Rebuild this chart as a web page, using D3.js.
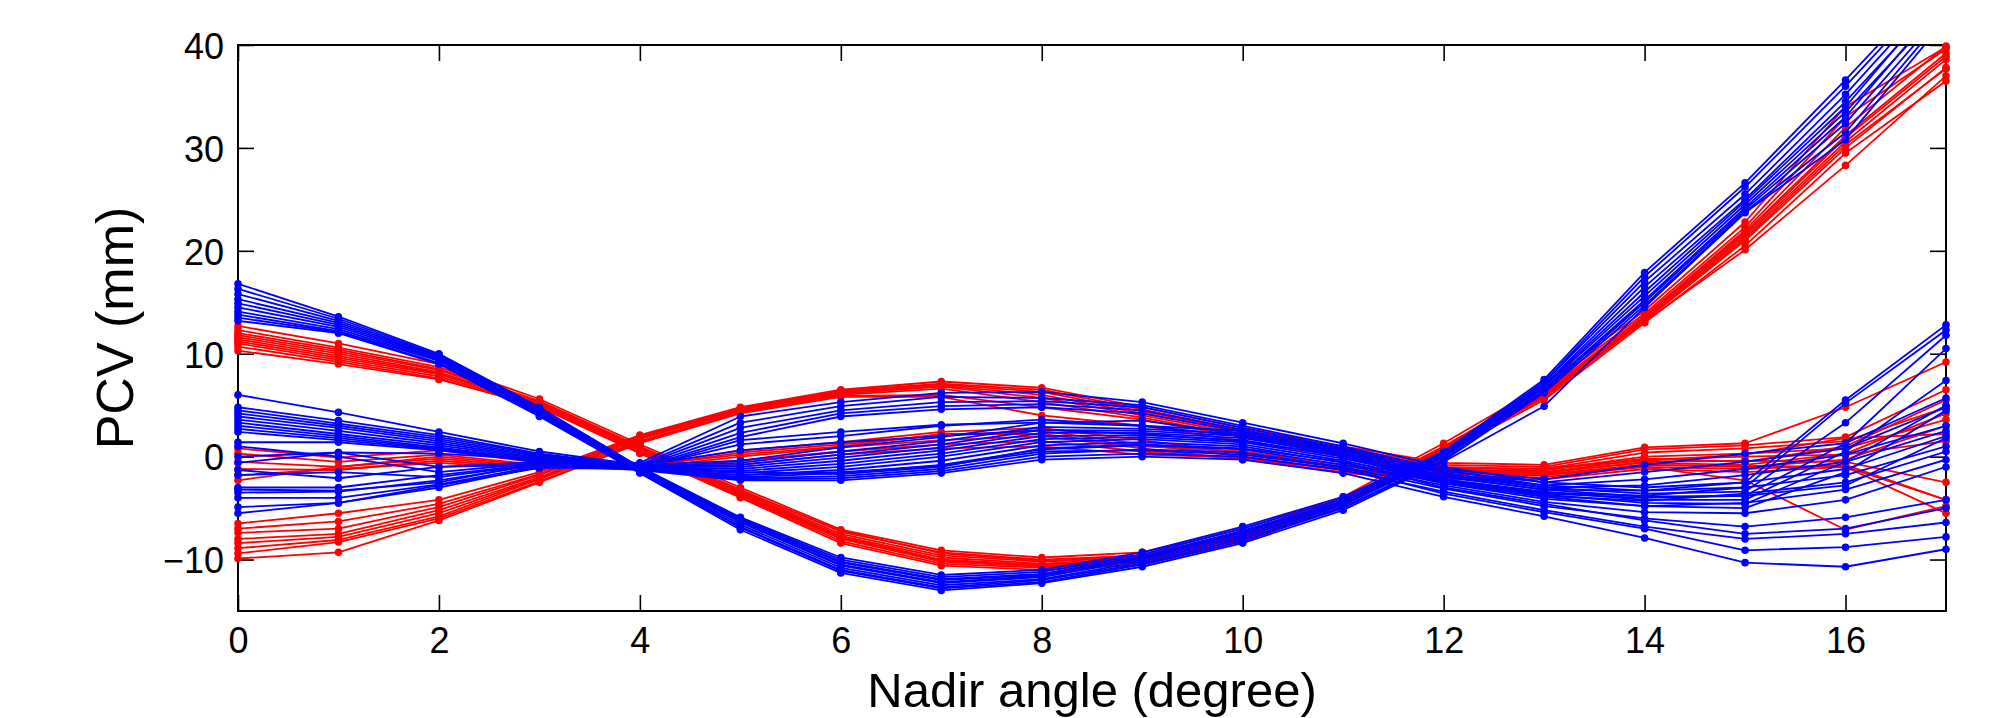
<!DOCTYPE html>
<html>
<head>
<meta charset="utf-8">
<script src="https://cdn.jsdelivr.net/npm/d3@7"></script>
<style>
  html, body { margin: 0; padding: 0; background: #ffffff; }
  svg { display: block; }
  text { font-family: "Liberation Sans", Arial, Helvetica, sans-serif; fill: #000; }
</style>
</head>
<body>
<script>
// Nadir angles (degree) sampled for every PCV curve
const nadirAngles = [0, 1, 2, 3, 4, 5, 6, 7, 8, 9, 10, 11, 12, 13, 14, 15, 16, 17];

// Axis ticks
const xTickValues = [0, 2, 4, 6, 8, 10, 12, 14, 16];
const yTickValues = [-10, 0, 10, 20, 30, 40];

// Red PCV curves (mm): strongly bowl-shaped group
const redBowl = [
  [12.7, 11.0, 9.0, 5.6, 1.2, -3.0, -7.1, -9.1, -9.8, -9.3, -7.0, -3.9, 1.3, 7.0, 14.2, 22.8, 34.0, 39.8],
  [12.3, 10.6, 8.7, 5.4, 1.0, -3.2, -7.3, -9.3, -10.0, -9.6, -7.3, -4.1, 1.0, 6.6, 13.9, 22.3, 33.0, 39.6],
  [12.0, 10.4, 8.5, 5.3, 0.9, -3.4, -7.5, -9.6, -10.2, -9.8, -7.5, -4.2, 0.8, 6.3, 13.7, 22.0, 32.0, 39.9],
  [11.8, 10.2, 8.4, 5.2, 0.8, -3.5, -7.7, -9.8, -10.4, -9.9, -7.7, -4.3, 0.7, 6.1, 13.6, 21.8, 31.2, 39.2],
  [11.6, 10.0, 8.2, 5.1, 0.7, -3.6, -7.8, -10.0, -10.5, -10.0, -7.8, -4.4, 0.6, 6.0, 13.5, 21.6, 31.0, 38.9],
  [11.4, 9.8, 8.1, 5.0, 0.6, -3.7, -7.9, -10.1, -10.6, -10.1, -7.9, -4.5, 0.5, 5.9, 13.4, 21.4, 30.6, 38.6],
  [11.2, 9.6, 8.0, 5.0, 0.5, -3.8, -8.0, -10.2, -10.7, -10.2, -8.0, -4.6, 0.5, 5.8, 13.3, 21.2, 30.3, 37.7],
  [11.0, 9.4, 7.8, 4.9, 0.4, -3.9, -8.2, -10.4, -10.8, -10.3, -8.1, -4.7, 0.4, 5.7, 13.2, 21.0, 30.0, 37.8],
  [10.7, 9.2, 7.6, 4.8, 0.3, -4.0, -8.4, -10.6, -11.0, -10.5, -8.3, -4.8, 0.3, 5.5, 13.0, 20.5, 29.5, 36.5],
  [10.3, 9.0, 7.5, 4.9, 0.5, -3.3, -7.2, -9.4, -10.1, -9.7, -7.6, -4.2, 0.9, 6.2, 13.1, 20.1, 28.3, 37.0]
];

// Red PCV curves (mm): group peaking near 7 degrees
const redHump = [
  [-6.5, -5.5, -4.2, -1.5, 2.1, 4.8, 6.5, 7.3, 6.7, 4.8, 2.8, 1.0, -0.6, -0.8, 0.9, 1.3, 4.8, 9.2],
  [-7.0, -6.3, -4.6, -1.7, 2.0, 4.7, 6.4, 7.1, 6.5, 4.6, 2.6, 0.8, -0.8, -1.0, 0.7, 1.1, 1.9, 6.5],
  [-7.4, -7.0, -4.9, -1.8, 1.9, 4.6, 6.3, 7.0, 6.3, 4.4, 2.5, 0.7, -1.0, -1.2, 0.4, 0.8, 1.5, 4.8],
  [-8.0, -7.5, -5.2, -2.0, 1.8, 4.5, 6.2, 6.9, 6.0, 4.2, 2.4, 0.6, -1.1, -1.3, 0.0, 0.3, 0.8, 3.6],
  [-8.4, -7.8, -5.5, -2.1, 1.7, 4.5, 6.1, 6.8, 5.7, 4.0, 2.2, 0.5, -1.2, -1.5, -0.3, 0.0, 0.2, 1.5],
  [-8.9, -8.1, -5.8, -2.2, 1.5, 4.4, 6.0, 6.6, 5.3, 3.8, 2.0, 0.3, -1.3, -1.6, -0.5, -0.4, -0.5, -2.5],
  [-9.4, -8.3, -6.0, -2.4, 1.4, 4.3, 5.9, 6.0, 4.8, 3.6, 1.9, 0.2, -1.4, -1.7, -0.8, -0.9, -1.0, -4.2],
  [-9.9, -9.3, -6.2, -2.5, 1.3, 4.2, 5.8, 5.8, 4.0, 3.0, 1.5, 0.0, -1.5, -1.8, -1.0, -2.3, -7.1, -4.8]
];

// Red PCV curves (mm): flat group near zero
const redFlat = [
  [0.8, -0.1, 0.6, -0.6, -0.9, 0.6, 1.4, 2.4, 2.8, 1.6, 0.3, -1.0, -1.6, -1.3, -0.2, -0.5, 1.0, 5.5],
  [0.3, -0.5, 0.2, -0.8, -1.0, 0.4, 1.2, 2.1, 2.5, 1.2, 0.0, -1.3, -1.8, -1.5, -0.6, -0.8, 0.3, 4.2],
  [-0.5, -1.0, -0.2, -1.0, -1.1, 0.0, 0.9, 1.6, 2.0, 0.8, -0.3, -1.5, -2.0, -1.8, -0.8, -1.0, -0.3, 3.0],
  [-1.2, -1.3, -0.4, -1.1, -1.2, -0.4, 0.5, 1.2, 1.5, 0.5, -0.2, -1.2, -2.1, -2.0, -1.0, -1.2, -0.8, -4.2],
  [-1.8, -1.2, -0.6, -1.2, -1.0, -0.8, 0.2, 0.8, 1.0, 0.2, -0.1, -1.6, -2.2, -2.2, -1.2, -1.5, -1.0, -5.5],
  [-2.3, -1.0, 0.0, -0.9, -0.9, 0.2, 1.0, 2.2, 2.2, 1.0, 0.5, -0.8, -1.9, -1.1, -0.4, 0.2, 1.8, 2.2]
];

// Blue PCV curves (mm): strongly bowl-shaped group
const blueBowl = [
  [16.8, 13.6, 10.0, 4.8, -1.0, -5.9, -9.8, -11.5, -11.0, -9.3, -6.8, -3.9, 0.5, 7.5, 17.9, 26.6, 36.6, 47.0],
  [16.3, 13.4, 9.9, 4.7, -1.1, -6.0, -10.0, -11.7, -11.2, -9.5, -7.0, -4.1, 0.4, 7.3, 17.5, 26.2, 36.0, 46.5],
  [15.8, 13.2, 9.8, 4.6, -1.2, -6.1, -10.2, -11.9, -11.4, -9.7, -7.2, -4.3, 0.3, 7.2, 17.0, 25.5, 35.2, 46.0],
  [15.3, 13.0, 9.7, 4.5, -1.2, -6.2, -10.3, -12.0, -11.5, -9.8, -7.3, -4.4, 0.2, 7.0, 16.5, 25.0, 34.5, 45.0],
  [14.9, 12.8, 9.6, 4.4, -1.3, -6.3, -10.5, -12.2, -11.6, -9.9, -7.4, -4.5, 0.1, 6.9, 16.0, 24.8, 34.0, 45.5],
  [14.5, 12.6, 9.5, 4.3, -1.3, -6.4, -10.6, -12.3, -11.7, -10.0, -7.6, -4.6, 0.0, 6.8, 15.6, 24.5, 33.5, 44.0],
  [14.1, 12.4, 9.4, 4.2, -1.4, -6.6, -10.8, -12.5, -11.9, -10.2, -7.8, -4.7, -0.1, 6.6, 15.2, 24.2, 33.0, 44.5],
  [13.8, 12.2, 9.3, 4.1, -1.5, -6.8, -11.0, -12.7, -12.0, -10.4, -8.0, -4.9, -0.3, 6.4, 15.0, 24.0, 32.4, 43.5],
  [13.5, 12.1, 9.1, 4.0, -1.5, -6.9, -11.1, -12.8, -12.2, -10.5, -8.2, -5.0, -0.4, 6.2, 14.7, 23.8, 31.5, 43.0],
  [13.2, 12.0, 9.0, 3.9, -1.6, -7.1, -11.3, -13.0, -12.3, -10.7, -8.4, -5.2, -0.5, 4.9, 14.5, 23.7, 30.8, 42.5]
];

// Blue PCV curves (mm): group peaking near 7-8 degrees
const blueHump = [
  [-0.6, 0.4, 0.3, -0.3, -0.6, 3.9, 5.3, 6.2, 6.3, 5.3, 3.3, 1.3, -1.0, -2.5, -3.0, -2.5, 5.5, 12.8],
  [-1.3, -2.1, -1.0, -0.5, -0.8, 3.3, 4.9, 5.8, 5.7, 5.0, 3.0, 1.0, -1.3, -2.8, -3.3, -3.0, 5.2, 12.3],
  [-3.0, -3.0, -1.8, -0.7, -0.9, 2.8, 4.5, 5.3, 5.4, 4.8, 2.8, 0.8, -1.6, -3.0, -3.6, -3.4, 3.3, 11.8],
  [-3.5, -3.4, -2.3, -0.8, -1.0, 2.3, 4.2, 4.9, 5.1, 4.5, 2.6, 0.6, -1.9, -3.2, -3.9, -3.8, 1.3, 10.5],
  [-4.0, -4.0, -2.7, -0.9, -1.1, 1.9, 3.9, 4.6, 4.8, 4.2, 2.4, 0.4, -2.2, -3.4, -4.2, -4.2, 0.5, 7.4],
  [-4.9, -4.5, -3.0, -1.0, -1.2, 1.6, 2.4, 3.1, 3.3, 3.5, 2.2, 0.2, -2.5, -3.7, -4.5, -4.6, -0.5, 5.0],
  [-5.5, -4.5, -2.8, -1.1, -1.1, 1.2, 2.0, 3.0, 3.6, 3.0, 2.0, 0.0, -2.6, -3.9, -4.8, -5.0, -1.5, 4.5],
  [-3.2, -3.3, -2.5, -0.6, -0.9, 0.6, 1.4, 2.0, 2.6, 2.2, 1.5, 0.1, -2.3, -3.6, -4.0, -3.8, -2.8, 1.8]
];

// Blue PCV curves (mm): flat group near zero
const blueFlat = [
  [6.0, 4.3, 2.4, 0.5, -0.8, -0.4, 0.9, 1.9, 3.3, 3.0, 2.5, 0.8, -1.2, -2.2, -0.8, 0.3, 1.3, 5.7],
  [4.8, 3.5, 2.1, 0.3, -0.9, -0.6, 0.5, 1.5, 2.9, 2.7, 2.2, 0.6, -1.4, -2.5, -1.5, -0.5, 0.8, 4.8],
  [4.5, 3.2, 1.9, 0.2, -0.9, -0.8, 0.2, 1.2, 2.6, 2.5, 2.0, 0.4, -1.6, -2.8, -2.2, -1.2, 0.2, 3.0],
  [4.2, 3.0, 1.7, 0.1, -1.0, -1.0, -0.1, 0.9, 2.3, 2.3, 1.8, 0.2, -1.8, -3.0, -2.8, -1.8, -0.5, 2.5],
  [3.9, 2.8, 1.5, 0.0, -1.0, -1.2, -0.4, 0.6, 2.0, 2.1, 1.6, 0.0, -2.0, -3.2, -3.3, -2.5, -1.2, 2.0],
  [3.6, 2.5, 1.3, -0.1, -1.0, -1.4, -0.7, 0.3, 1.7, 1.9, 1.4, -0.2, -2.2, -3.5, -3.8, -3.0, -1.8, 1.0],
  [3.3, 2.2, 1.1, -0.2, -1.1, -1.6, -1.0, 0.0, 1.4, 1.7, 1.2, -0.4, -2.4, -3.8, -4.3, -3.6, -2.5, 0.5],
  [3.0, 2.0, 0.9, -0.3, -1.1, -1.8, -1.3, -0.4, 1.1, 1.4, 1.0, -0.6, -2.6, -4.1, -4.8, -4.5, -3.2, -0.3],
  [2.7, 1.8, 0.8, -0.4, -1.1, -2.0, -1.6, -0.8, 0.7, 1.1, 0.7, -0.8, -2.8, -4.4, -5.4, -5.5, -4.2, -1.0],
  [2.4, 1.6, 0.7, -0.5, -1.2, -2.1, -1.9, -1.2, 0.3, 0.7, 0.4, -1.0, -3.1, -4.8, -6.0, -6.8, -5.9, -4.2],
  [1.4, 1.4, 0.6, -0.5, -1.2, -2.2, -2.1, -1.4, 0.0, 0.3, 0.0, -1.3, -3.4, -5.2, -6.8, -8.0, -7.5, -6.4],
  [0.0, 0.4, -1.0, -0.8, -1.3, -2.3, -2.3, -1.6, -0.3, 0.0, -0.3, -1.6, -3.9, -5.8, -7.9, -10.3, -10.7, -9.0],
  [1.0, 0.0, -1.5, -0.6, -1.2, -1.8, -1.5, -0.9, 0.5, 0.6, 0.2, -1.1, -3.6, -5.4, -7.0, -9.1, -8.8, -7.8],
  [-1.8, -1.5, -2.0, -0.7, -1.1, -1.5, -1.7, -1.0, 0.8, 1.2, 0.8, -0.5, -3.0, -4.6, -6.2, -7.5, -7.0, -5.0]
];

const W = 1997, H = 718;
const plot = { left: 238, right: 1946, top: 45, bottom: 611 };

const svg = d3.select("body").append("svg")
  .attr("width", W)
  .attr("height", H);

const x = d3.scaleLinear().domain([0, 17]).range([plot.left, plot.right]);
const y = d3.scaleLinear().domain([-15, 40]).range([plot.bottom, plot.top]);

// Box
svg.append("rect")
  .attr("x", plot.left).attr("y", plot.top)
  .attr("width", plot.right - plot.left)
  .attr("height", plot.bottom - plot.top)
  .attr("fill", "none")
  .attr("stroke", "#000")
  .attr("stroke-width", 2);

const tickLen = 16;
const tickFont = 36;

function styleAxis(g) {
  g.select(".domain").remove();
  g.selectAll(".tick line").attr("stroke", "#000").attr("stroke-width", 1.6);
  g.selectAll(".tick text")
    .attr("fill", "#000")
    .style("font-family", "'Liberation Sans', Arial, Helvetica, sans-serif")
    .style("font-size", tickFont + "px");
}

// Bottom axis with inward ticks and labels
svg.append("g")
  .attr("transform", `translate(0,${plot.bottom})`)
  .call(d3.axisBottom(x).tickValues(xTickValues).tickSizeInner(-tickLen).tickSizeOuter(0).tickPadding(16))
  .call(styleAxis);

// Left axis with inward ticks and labels
svg.append("g")
  .attr("transform", `translate(${plot.left},0)`)
  .call(d3.axisLeft(y).tickValues(yTickValues).tickSizeInner(-tickLen).tickSizeOuter(0).tickPadding(14)
    .tickFormat(d => d < 0 ? "\u2212" + Math.abs(d) : String(d)))
  .call(styleAxis)
  .call(g => g.selectAll(".tick text").attr("dy", "0.37em"));

// Mirrored top and right ticks
svg.append("g")
  .attr("transform", `translate(0,${plot.top})`)
  .call(d3.axisTop(x).tickValues(xTickValues).tickSizeInner(-tickLen).tickSizeOuter(0).tickFormat(""))
  .call(styleAxis);

svg.append("g")
  .attr("transform", `translate(${plot.right},0)`)
  .call(d3.axisRight(y).tickValues(yTickValues).tickSizeInner(-tickLen).tickSizeOuter(0).tickFormat(""))
  .call(styleAxis);

// Clip lines to the axes box
svg.append("defs").append("clipPath").attr("id", "plot-clip")
  .append("rect")
  .attr("x", plot.left).attr("y", plot.top)
  .attr("width", plot.right - plot.left)
  .attr("height", plot.bottom - plot.top);

const line = d3.line()
  .x((d, i) => x(nadirAngles[i]))
  .y(d => y(d));

function drawGroup(rows, color) {
  const g = svg.append("g");
  rows.forEach(row => {
    g.append("path")
      .attr("d", line(row))
      .attr("clip-path", "url(#plot-clip)")
      .attr("fill", "none")
      .attr("stroke", color)
      .attr("stroke-width", 1.8)
      .attr("stroke-linejoin", "round");
    g.selectAll(null)
      .data(row.map((v, i) => ({ a: nadirAngles[i], v })).filter(p => p.v <= 40 && p.v >= -15))
      .enter().append("circle")
      .attr("cx", p => x(p.a))
      .attr("cy", p => y(p.v))
      .attr("r", 3.8)
      .attr("fill", color);
  });
}

drawGroup(redBowl, "#ff0000");
drawGroup(redHump, "#ff0000");
drawGroup(redFlat, "#ff0000");
drawGroup(blueFlat, "#0000ff");
drawGroup(blueHump, "#0000ff");
drawGroup(blueBowl, "#0000ff");

// Axis titles
svg.append("text")
  .attr("x", (plot.left + plot.right) / 2)
  .attr("y", 707)
  .attr("text-anchor", "middle")
  .style("font-size", "49px")
  .text("Nadir angle (degree)");

svg.append("text")
  .attr("transform", `translate(133,${(plot.top + plot.bottom) / 2}) rotate(-90)`)
  .attr("text-anchor", "middle")
  .style("font-size", "52px")
  .text("PCV (mm)");
</script>
</body>
</html>
